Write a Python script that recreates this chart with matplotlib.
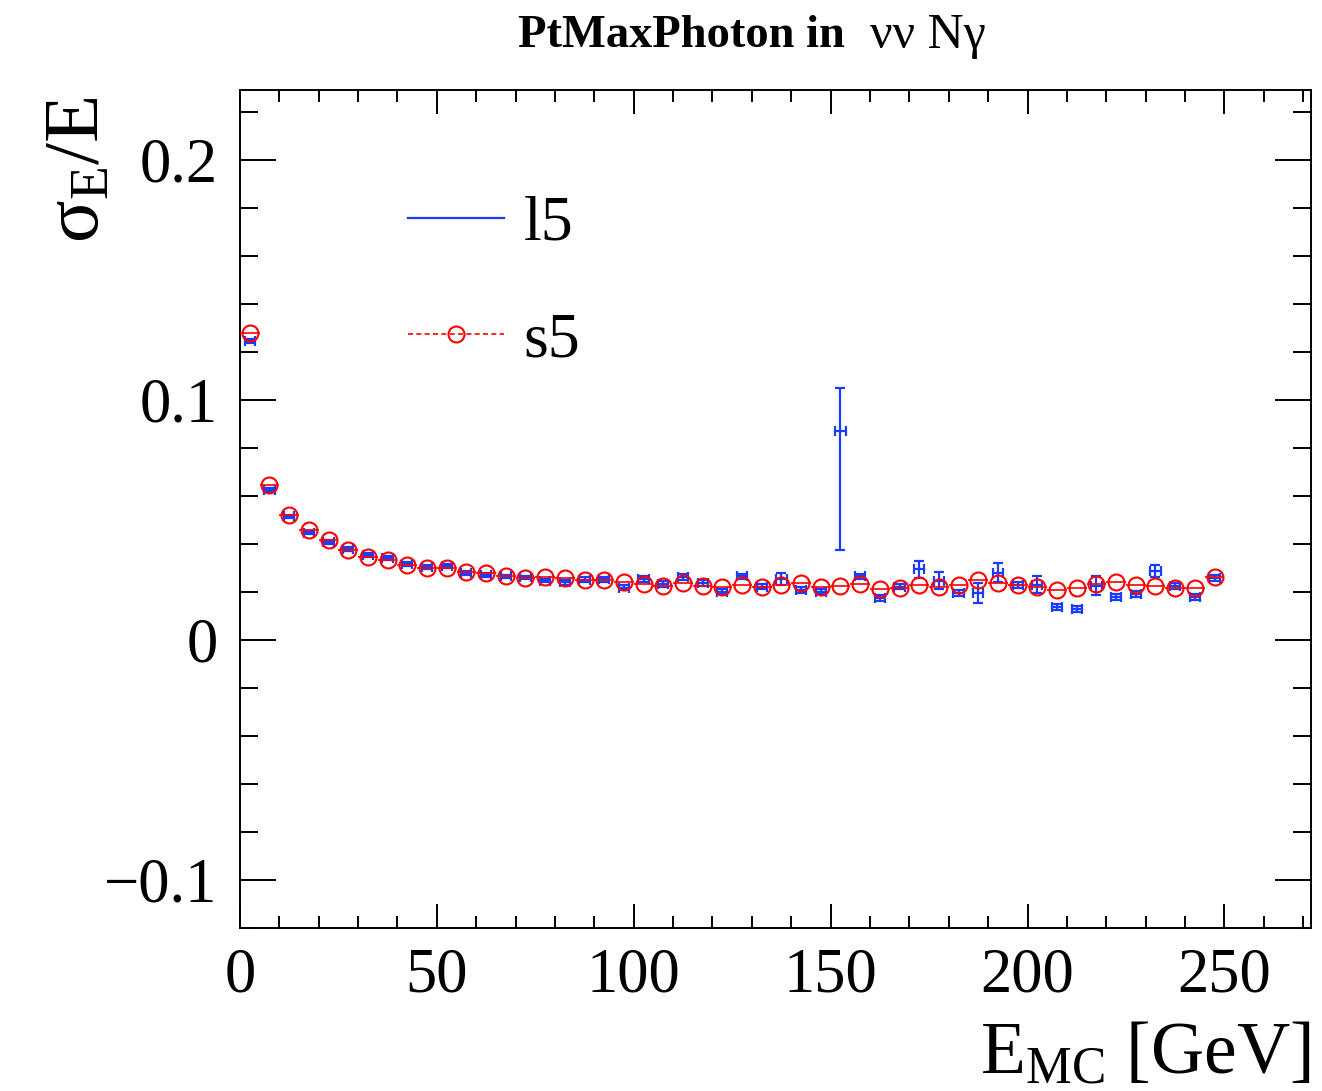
import matplotlib
matplotlib.use("Agg")
import matplotlib.pyplot as plt
from matplotlib.lines import Line2D
from matplotlib.ticker import MultipleLocator

plt.rcParams['font.family'] = ['Liberation Serif', 'DejaVu Serif']
plt.rcParams['mathtext.fontset'] = 'custom'
plt.rcParams['mathtext.rm'] = 'Liberation Serif'
plt.rcParams['mathtext.it'] = 'Liberation Serif:italic'

# ---- data ----
e_mc = [2.5, 7.5, 12.5, 17.5, 22.5, 27.5, 32.5, 37.5, 42.5, 47.5,
        52.5, 57.5, 62.5, 67.5, 72.5, 77.5, 82.5, 87.5, 92.5, 97.5,
        102.5, 107.5, 112.5, 117.5, 122.5, 127.5, 132.5, 137.5, 142.5, 147.5,
        152.5, 157.5, 162.5, 167.5, 172.5, 177.5, 182.5, 187.5, 192.5, 197.5,
        202.5, 207.5, 212.5, 217.5, 222.5, 227.5, 232.5, 237.5, 242.5, 247.5]

s5_res = [0.1278, 0.0643, 0.0522, 0.0458, 0.0417, 0.0375, 0.0347, 0.0333, 0.0312, 0.0299,
          0.0300, 0.0281, 0.0279, 0.0265, 0.0258, 0.0260, 0.0259, 0.0251, 0.0250, 0.0243,
          0.0232, 0.0224, 0.0235, 0.0226, 0.0222, 0.0229, 0.0222, 0.0229, 0.0236, 0.0222,
          0.0225, 0.0232, 0.0211, 0.0218, 0.0229, 0.0222, 0.0229, 0.0250, 0.0236, 0.0229,
          0.0222, 0.0208, 0.0215, 0.0233, 0.0243, 0.0229, 0.0225, 0.0215, 0.0215, 0.0261]

l5_res = [0.1243, 0.0625, 0.0514, 0.0447, 0.0407, 0.0378, 0.0354, 0.0340, 0.0317, 0.0303,
          0.0306, 0.0278, 0.0271, 0.0264, 0.0260, 0.0247, 0.0239, 0.0250, 0.0252, 0.0218,
          0.0253, 0.0234, 0.0262, 0.0236, 0.0201, 0.0264, 0.0222, 0.0253, 0.0208, 0.0201,
          0.0868, 0.0264, 0.0174, 0.0222, 0.0294, 0.0247, 0.0195, 0.0195, 0.0279, 0.0229,
          0.0229, 0.0136, 0.0128, 0.0225, 0.0178, 0.0192, 0.0285, 0.0225, 0.0178, 0.0258]

l5_err_lo = [0.0008, 0.0008, 0.0008, 0.0008, 0.0008, 0.0008, 0.0008, 0.0008, 0.0008, 0.0008,
             0.0008, 0.0008, 0.0008, 0.0008, 0.0008, 0.0008, 0.0010, 0.0010, 0.0010, 0.0010,
             0.0012, 0.0012, 0.0012, 0.0012, 0.0012, 0.0012, 0.0012, 0.0024, 0.0012, 0.0012,
             0.0493, 0.0012, 0.0012, 0.0012, 0.0035, 0.0035, 0.0012, 0.0040, 0.0040, 0.0012,
             0.0035, 0.0012, 0.0012, 0.0040, 0.0012, 0.0012, 0.0025, 0.0012, 0.0012, 0.0012]

l5_err_hi = [0.0008, 0.0008, 0.0008, 0.0008, 0.0008, 0.0008, 0.0008, 0.0008, 0.0008, 0.0008,
             0.0008, 0.0008, 0.0008, 0.0008, 0.0008, 0.0008, 0.0010, 0.0010, 0.0010, 0.0010,
             0.0012, 0.0012, 0.0012, 0.0012, 0.0012, 0.0012, 0.0012, 0.0024, 0.0012, 0.0012,
             0.0181, 0.0012, 0.0012, 0.0012, 0.0035, 0.0035, 0.0012, 0.0040, 0.0040, 0.0012,
             0.0035, 0.0012, 0.0012, 0.0040, 0.0012, 0.0012, 0.0025, 0.0012, 0.0012, 0.0012]

l5_xerr = 1.3
s5_xerr = 2.5

title_bold = "PtMaxPhoton in"
title_rest = "  \u03bd\u03bd N\u03b3"

# ---- figure ----
fig = plt.figure(figsize=(13.22, 10.91), dpi=100)
ax = fig.add_axes([0.1815, 0.1494, 0.8102, 0.7681])

blue = '#1a3cff'
red = '#ff0000'

ax.errorbar(e_mc, l5_res, xerr=l5_xerr, yerr=[l5_err_lo, l5_err_hi], fmt='none',
            ecolor=blue, elinewidth=1.6, capsize=3.6, capthick=1.6, zorder=3)
ax.errorbar(e_mc, s5_res, xerr=s5_xerr, fmt='o', ms=11.5, mfc='none', mec=red, mew=1.5,
            ecolor=red, elinewidth=1.2, capsize=0, zorder=4)

ax.set_xlim(0, 272)
ax.set_ylim(-0.12, 0.229)

ax.xaxis.set_major_locator(MultipleLocator(50))
ax.xaxis.set_minor_locator(MultipleLocator(10))
ax.yaxis.set_major_locator(MultipleLocator(0.1))
ax.yaxis.set_minor_locator(MultipleLocator(0.02))
ax.set_yticks([-0.1, 0, 0.1, 0.2])
ax.set_yticklabels(['\u22120.1', '0', '0.1', '0.2'])

ax.tick_params(axis='both', which='both', direction='in', top=True, right=True,
               labelsize=45, color='black', width=1.4)
ax.tick_params(axis='x', which='major', length=17, pad=14)
ax.tick_params(axis='x', which='minor', length=8.5)
ax.tick_params(axis='y', which='major', length=26, pad=16)
ax.tick_params(axis='y', which='minor', length=13)
for sp in ax.spines.values():
    sp.set_linewidth(1.4)

ax.set_xlabel(r'$\mathrm{E_{MC}}$ [GeV]', fontsize=53, loc='right', labelpad=0)
ax.xaxis.set_label_coords(1.0, -0.112)
ax.xaxis.label.set_va('top')
ax.set_ylabel(r'$\mathrm{\sigma_{E}/E}$', fontsize=57, loc='top')
ax.yaxis.set_label_coords(-0.15, 0.993)
ax.yaxis.label.set_va('center')
ax.yaxis.label.set_ha('right')

# title
fig.text(0.639, 0.967, title_bold, fontsize=33.5, fontweight='bold', ha='right', va='center')
fig.text(0.639, 0.967, title_rest, fontsize=36, ha='left', va='center')

# legend
h_l5 = Line2D([], [], color=blue, lw=1.6)
h_s5 = Line2D([], [], color=red, lw=1.2, ls=(0, (3, 2)), marker='o', ms=11.5,
              mfc='none', mec=red, mew=1.5)
leg = ax.legend([h_l5, h_s5], ['l5', 's5'], loc='upper left',
                bbox_to_anchor=(0.103, 0.943), frameon=False, fontsize=46,
                handlelength=1.51, handletextpad=0.3, labelspacing=0.9)

fig.savefig('out.png', dpi=100)
